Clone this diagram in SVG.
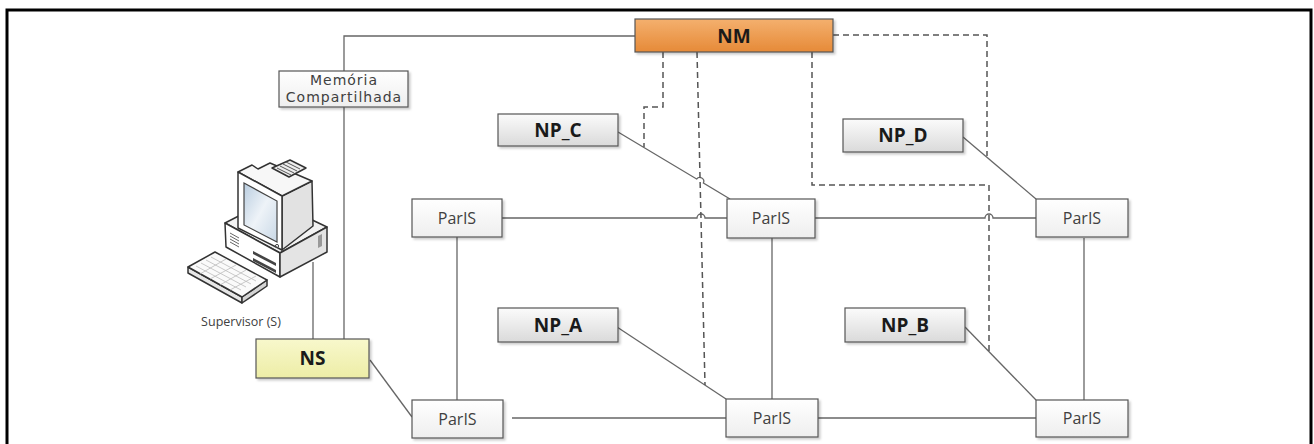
<svg xmlns="http://www.w3.org/2000/svg" width="1314" height="444" viewBox="0 0 1314 444">
  <style>
    .frame { fill: none; stroke: #000; stroke-width: 3; }
    .box { stroke: #555; stroke-width: 1.2; filter: url(#shadow); }
    .link { fill: none; stroke: #666; stroke-width: 1.3; }
    .ctrl { fill: none; stroke: #555; stroke-width: 1.5; stroke-dasharray: 6 4; }
    .lbl { font-family: "Open Sans", "Liberation Sans", sans-serif; font-size: 16px; fill: #404040; text-anchor: middle; }
    .mem { font-family: "DejaVu Sans", "Liberation Sans", sans-serif; font-size: 14px; letter-spacing: 1px; fill: #404040; text-anchor: middle; }
    .bold { font-family: "Open Sans", "Liberation Sans", sans-serif; font-weight: bold; font-size: 19px; fill: #1a1a1a; text-anchor: middle; }
    .small { font-family: "Open Sans", "Liberation Sans", sans-serif; font-size: 12.5px; fill: #404040; text-anchor: middle; }
    .pc { stroke: #333; stroke-width: 1.5; stroke-linejoin: round; }
  </style>
  <defs>
    <filter id="shadow" x="-10%" y="-20%" width="130%" height="160%">
      <feDropShadow dx="2" dy="2" stdDeviation="1.2" flood-color="#000" flood-opacity="0.2"/>
    </filter>
    <linearGradient id="gOrange" x1="0" y1="0" x2="0" y2="1">
      <stop offset="0" stop-color="#F4B06E"/>
      <stop offset="1" stop-color="#E68A38"/>
    </linearGradient>
    <linearGradient id="gYellow" x1="0" y1="0" x2="0" y2="1">
      <stop offset="0" stop-color="#F8F8CC"/>
      <stop offset="1" stop-color="#EDEDA6"/>
    </linearGradient>
    <linearGradient id="gGray" x1="0" y1="0" x2="0" y2="1">
      <stop offset="0" stop-color="#FBFBFB"/>
      <stop offset="1" stop-color="#DADADA"/>
    </linearGradient>
    <linearGradient id="gWhite" x1="0" y1="0" x2="0" y2="1">
      <stop offset="0" stop-color="#FFFFFF"/>
      <stop offset="1" stop-color="#EEEEEE"/>
    </linearGradient>
    <linearGradient id="gScreen" x1="0" y1="0" x2="1" y2="1">
      <stop offset="0" stop-color="#B9CDE0"/>
      <stop offset="0.5" stop-color="#EEF3F8"/>
      <stop offset="1" stop-color="#C9D8E6"/>
    </linearGradient>
  </defs>

  <rect width="1314" height="444" fill="#fff"/>
  <path class="frame" d="M7,444 V10 H1311 V444"/>

  <!-- connectors -->
  <g id="connectors">
    <!-- shared memory links -->
    <path class="link" d="M344,71 V36 H635"/>
    <path class="link" d="M344,107 V339"/>
    <path class="link" d="M313,262 V339"/>
    <path class="link" d="M370,360 L412,417"/>
    <!-- ParIS mesh -->
    <path class="link" d="M502,218 H697 A4,4 0 0 1 705,218 H727"/>
    <path class="link" d="M815,218 H985 A4,4 0 0 1 993,218 H1036"/>
    <path class="link" d="M512,418 H726"/>
    <path class="link" d="M818,418 H1036"/>
    <path class="link" d="M457,237 V400"/>
    <path class="link" d="M772,238 V399"/>
    <path class="link" d="M1084,238 V400"/>
    <!-- processing nodes to ParIS -->
    <path class="link" d="M618,132 L696.6,179 A4,4 0 0 1 703.4,183.1 L730,199"/>
    <path class="link" d="M963,137 L1036,199"/>
    <path class="link" d="M617,327 L726,399"/>
    <path class="link" d="M965,327 L1036,400"/>
    <!-- manager control lines -->
    <path class="ctrl" d="M663,52 V107 H644 V147"/>
    <path class="ctrl" d="M697,52 L705,385"/>
    <path class="ctrl" d="M812,52 V185 H989 V351"/>
    <path class="ctrl" d="M833,35 H987 V156"/>
  </g>

  <!-- supervisor workstation -->
  <g id="supervisor">
    <!-- keyboard -->
    <polygon class="pc" fill="#E6E6E6" points="188,267 188,273 242,303 242,297"/>
    <polygon class="pc" fill="#D4D4D4" points="242,297 242,303 267,286 267,280"/>
    <polygon class="pc" fill="#FAFAFA" points="188,267 215,252 267,280 242,297"/>
    <g stroke="#BBB" stroke-width="0.8" fill="none">
      <path d="M196,266 L241,290 M201,263 L246,287 M206,260 L251,284 M211,257 L256,281"/>
      <path d="M200,274 L226,259 M210,279 L236,265 M220,285 L246,270 M230,290 L256,276"/>
    </g>
    <!-- base unit -->
    <polygon class="pc" fill="#F2F2F2" points="225,223 270,200 327,227 280,253"/>
    <polygon class="pc" fill="#FFFFFF" points="225,223 280,253 280,277 226,247"/>
    <polygon class="pc" fill="#E4E4E4" points="280,253 327,227 327,252 280,277"/>
    <g stroke="#666" stroke-width="1">
      <path d="M230,233 L239,238 M230,236 L239,241 M230,239 L239,244 M230,242 L239,247"/>
    </g>
    <polygon fill="#444" points="253,251 276,263 276,266 253,254"/>
    <polygon fill="#444" points="253,258 276,270 276,273 253,261"/>
    <polygon fill="#999" points="318,236 322,234 322,246 318,248"/>
    <!-- monitor -->
    <polygon class="pc" fill="#E2E2E2" points="282,196 312,181 313,226 282,250"/>
    <polygon class="pc" fill="#F7F7F7" points="238,172 252,165 258,169 270,163 312,181 282,196"/>
    <polygon class="pc" fill="#EDEDED" points="272,168 290,160 306,168 289,177"/>
    <g stroke="#555" stroke-width="1">
      <path d="M277,168 L291,175 M280,166 L294,173 M283,164 L297,171 M286,162 L300,169"/>
    </g>
    <polygon class="pc" fill="#FFFFFF" points="238,172 282,196 282,250 238,228"/>
    <polygon fill="url(#gScreen)" stroke="#444" stroke-width="1.2" points="244,183 277,201 277,242 244,225"/>
    <circle cx="277" cy="246" r="1.6" fill="none" stroke="#444" stroke-width="1"/>
    <text class="small" x="241" y="326">Supervisor (S)</text>
  </g>

  <g id="mem">
    <rect class="box" x="279" y="71" width="129" height="36" fill="url(#gWhite)"/>
    <text class="mem" x="344" y="85">Memória</text>
    <text class="mem" x="344" y="102">Compartilhada</text>
  </g>

  <g id="nm">
    <rect class="box" x="635" y="19" width="198" height="33" fill="url(#gOrange)"/>
    <text class="bold" x="734" y="43" font-size="21">NM</text>
  </g>

  <g id="ns">
    <rect class="box" x="256" y="339" width="113" height="39" fill="url(#gYellow)"/>
    <text class="bold" x="312.5" y="365">NS</text>
  </g>

  <g id="np-c">
    <rect class="box" x="498" y="114" width="120" height="32" fill="url(#gGray)"/>
    <text class="bold" x="558" y="137">NP_C</text>
  </g>
  <g id="np-d">
    <rect class="box" x="843" y="119" width="120" height="33" fill="url(#gGray)"/>
    <text class="bold" x="903" y="142">NP_D</text>
  </g>
  <g id="np-a">
    <rect class="box" x="498" y="308" width="120" height="34" fill="url(#gGray)"/>
    <text class="bold" x="558" y="332">NP_A</text>
  </g>
  <g id="np-b">
    <rect class="box" x="845" y="308" width="120" height="34" fill="url(#gGray)"/>
    <text class="bold" x="905" y="332">NP_B</text>
  </g>

  <g id="paris-tl">
    <rect class="box" x="412" y="199" width="90" height="38" fill="url(#gWhite)"/>
    <text class="lbl" x="457" y="224">ParIS</text>
  </g>
  <g id="paris-tm">
    <rect class="box" x="727" y="199" width="88" height="39" fill="url(#gWhite)"/>
    <text class="lbl" x="771" y="224">ParIS</text>
  </g>
  <g id="paris-tr">
    <rect class="box" x="1036" y="199" width="92" height="38" fill="url(#gWhite)"/>
    <text class="lbl" x="1082" y="224">ParIS</text>
  </g>
  <g id="paris-bl">
    <rect class="box" x="412" y="400" width="91" height="38" fill="url(#gWhite)"/>
    <text class="lbl" x="457.5" y="425">ParIS</text>
  </g>
  <g id="paris-bm">
    <rect class="box" x="726" y="399" width="92" height="38" fill="url(#gWhite)"/>
    <text class="lbl" x="772" y="424">ParIS</text>
  </g>
  <g id="paris-br">
    <rect class="box" x="1036" y="400" width="92" height="37" fill="url(#gWhite)"/>
    <text class="lbl" x="1082" y="424">ParIS</text>
  </g>
</svg>
